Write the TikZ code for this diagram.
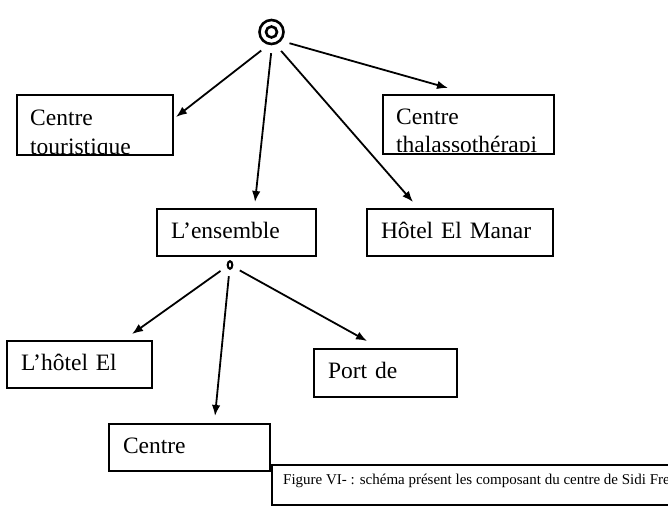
\documentclass[tikz,border=0pt]{standalone}
\usepackage{fontspec}
\setmainfont{Liberation Serif}
\usetikzlibrary{arrows.meta, calc, positioning}

\tikzset{
  boite/.style={draw, line width=2pt, inner xsep=14pt, inner ysep=0pt, align=left,
    font=\fontsize{23.5}{27.5}\selectfont, execute at begin node=\strut},
  lbl/.style={inner sep=0pt, anchor=base west, font=\fontsize{23.5}{27.5}\selectfont},
  fleche/.style={line width=1.8pt, -{Latex[length=11pt, width=8.5pt]}},
}

\begin{document}
\begin{tikzpicture}[x=1pt, y=-1pt]
    \clip (0,0) rectangle (668,527);

    % 1. Symboles de depart
    \node[circle, minimum size=42pt, inner sep=0pt] (top) at (271.5,32) {};
    \draw[line width=2.6pt] (top.center) circle (12pt) (top.center) circle (5.5pt);

    \node[circle, minimum size=22pt, inner sep=0pt] (noeud) at (230,265) {};
    \fill (noeud.center) ellipse (3.4pt and 5pt);
    \fill[white] (noeud.center) ellipse (1pt and 2.3pt);

    % 2. Les boites
    \node[boite, text width=128pt, minimum height=60pt] (tour) at (95,125) {};
    \node[boite, text width=143pt, minimum height=59pt] (thal) at (468.5,124.5) {};
    \node[boite, text width=131pt, minimum height=47pt] (ens) at (236.5,232.5) {L’ensemble};
    \node[boite, text width=158pt, minimum height=47pt] (manar) at (460,232.5) {Hôtel El Manar};
    \node[boite, text width=117pt, minimum height=47pt] (hotel) at (79.5,364.5) {L’hôtel El};
    \node[boite, text width=115pt, minimum height=48pt] (port) at (385.5,373) {Port de};
    \node[boite, text width=133pt, minimum height=47pt] (centre) at (189.5,447.5) {Centre};

    % textes coupes par le cadre
    \begin{scope}
        \clip (tour.north west) rectangle ([yshift=2.5pt]tour.south east);
        \node[lbl] (tour1) at ($(tour.north west)+(14,31)$) {Centre};
        \node[lbl] (tour2) at ($(tour.north west)+(14,60)$) {touristique};
    \end{scope}
    \begin{scope}
        \clip (thal.north west) rectangle ([yshift=4pt]thal.south east);
        \node[lbl] (thal1) at ($(thal.north west)+(14,30)$) {Centre};
        \node[lbl] (thal2) at ($(thal.north west)+(14,58.5)$) {thalassothérapi};
    \end{scope}

    % 3. Legende
    \node[draw, line width=2pt, anchor=north west, minimum width=440pt,
          minimum height=40pt, inner sep=0pt] (legende) at (271,464) {};
    \node[anchor=base west, inner sep=0pt, font=\fontsize{15}{18}\selectfont] (legtxt)
        at ($(legende.north west)+(12,20)$)
        {Figure VI- : schéma présent les composant du centre de Sidi Fre};

    % 4. Fleches
    \draw[fleche] (top.-119) -- ([xshift=2pt, yshift=8pt]tour.east);
    \draw[fleche] (top.-91) -- ([xshift=18.5pt, yshift=6pt]ens.north);
    \draw[fleche] (top.-63) -- ([xshift=-47pt, yshift=6pt]manar.north);
    \draw[fleche] (top.-32) -- ([xshift=-20.5pt, yshift=6pt]thal.north);

    \draw[fleche] (noeud.-148) -- ([xshift=52.5pt, yshift=6pt]hotel.north);
    \draw[fleche] (noeud.-96) -- ([xshift=25.5pt, yshift=7pt]centre.north);
    \draw[fleche] (noeud.-29) -- ([xshift=-18.5pt, yshift=7pt]port.north);

\end{tikzpicture}
\end{document}
